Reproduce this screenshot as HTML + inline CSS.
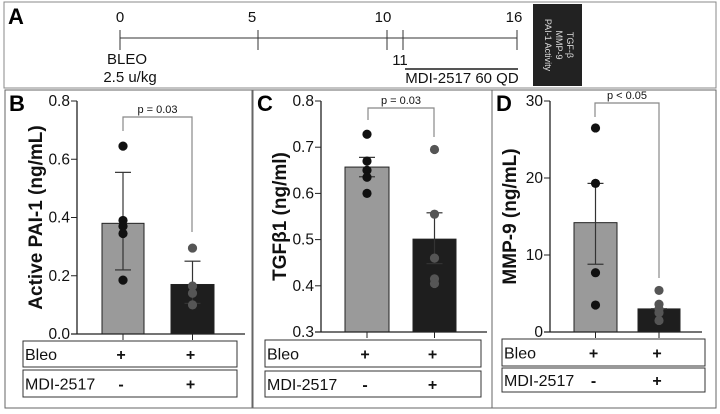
<!DOCTYPE html>
<html><head><meta charset="utf-8"><style>
html,body{margin:0;padding:0;background:#fff;}
svg{display:block;font-family:"Liberation Sans",Arial,sans-serif;}
</style></head><body>
<svg id="fig" width="720" height="414" viewBox="0 0 720 414">
<g>
<rect x="4" y="2" width="712" height="86" fill="none" stroke="#888" stroke-width="1"/>
<text x="8" y="24" font-size="22" font-weight="bold">A</text>
<line x1="120" y1="38" x2="517" y2="38" stroke="#333"/>
<g stroke="#333">
<line x1="120" y1="30" x2="120" y2="50"/><line x1="258" y1="30" x2="258" y2="50"/>
<line x1="387" y1="30" x2="387" y2="50"/><line x1="403" y1="30" x2="403" y2="50"/><line x1="517" y1="30" x2="517" y2="50"/>
</g>
<g font-family="'Liberation Sans Narrow','Liberation Sans',sans-serif" font-size="15" text-anchor="middle" fill="#111">
<text x="120" y="22">0</text><text x="252" y="22">5</text><text x="383" y="22">10</text><text x="514" y="22">16</text>
<text x="400" y="65">11</text>
<text x="127" y="64">BLEO</text><text x="130" y="82">2.5 u/kg</text>
<text x="462" y="83">MDI-2517 60 QD</text>
</g>
<line x1="405" y1="69" x2="518" y2="69" stroke="#555" stroke-width="2"/>
<rect x="533" y="4" width="49" height="82" fill="#222"/>
<g transform="translate(557,45) rotate(90)" fill="#ddd" font-size="9" text-anchor="middle">
<text y="-10">TGF-β</text><text y="1">MMP-9</text><text y="12">PAI-1 Activity</text>
</g>
</g>
<g id="panels"></g>
</svg>
<script>
const ns="http://www.w3.org/2000/svg";
const root=document.getElementById('panels');
function el(tag,attrs,parent,text){const e=document.createElementNS(ns,tag);for(const k in attrs)e.setAttribute(k,attrs[k]);if(text!==undefined)e.textContent=text;parent.appendChild(e);return e;}

// Panel B data
const bTicks=["0.0","0.2","0.4","0.6","0.8"];
const bTickVals=[0,0.2,0.4,0.6,0.8];
const bMeans=[0.38,0.17];
const bErrHi=[0.555,0.25];
const bErrLo=[0.22,0.105];
const bPts0=[0.645,0.39,0.37,0.345,0.185];
const bPts1=[0.295,0.165,0.14,0.10];
// Panel C data
const cTicks=["0.3","0.4","0.5","0.6","0.7","0.8"];
const cTickVals=[0.3,0.4,0.5,0.6,0.7,0.8];
const cMeans=[0.657,0.501];
const cErrHi=[0.678,0.558];
const cErrLo=[0.636,0.448];
const cPts0=[0.728,0.67,0.65,0.635,0.6];
const cPts1=[0.695,0.555,0.46,0.415,0.405];
// Panel D data
const dTicks=["0","10","20","30"];
const dTickVals=[0,10,20,30];
const dMeans=[14.2,3.0];
const dErrHi=[19.3,3.0];
const dErrLo=[8.8,3.0];
const dPts0=[26.5,19.3,7.7,3.5];
const dPts1=[5.4,3.6,3.0,2.5,1.5];

const panels=[
 {id:'b',letter:'B',box:[5,90,247,318],ax:77,axEnd:245,yTop:101,yBot:334,min:0,max:0.8,ticks:bTicks,tickVals:bTickVals,means:bMeans,hi:bErrHi,lo:bErrLo,pts:[bPts0,bPts1],
  bars:[[102,144],[171,214]],title:'Active PAI-1 (ng/mL)',titleX:42,p:'p = 0.03',brY:117,brL:[123,131],brR:[192,232],tbl:[23,214,341,26,370,27]},
 {id:'c',letter:'C',box:[253,90,239,318],ax:321,axEnd:487,yTop:101,yBot:332,min:0.3,max:0.8,ticks:cTicks,tickVals:cTickVals,means:cMeans,hi:cErrHi,lo:cErrLo,pts:[cPts0,cPts1],
  bars:[[345,389],[413,456]],title:'TGFβ1 (ng/ml)',titleX:286,p:'p = 0.03',brY:108,brL:[368,120],brR:[434,137],tbl:[265,216,340,27,371,26]},
 {id:'d',letter:'D',box:[492,90,224,318],ax:550,axEnd:702,yTop:101,yBot:332,min:0,max:30,ticks:dTicks,tickVals:dTickVals,means:dMeans,hi:dErrHi,lo:dErrLo,pts:[dPts0,dPts1],
  bars:[[574,617],[638,680]],title:'MMP-9 (ng/mL)',titleX:516,p:'p < 0.05',brY:103,brL:[595,117],brR:[659,278],tbl:[502,203,339,27,368,24]}
];

panels.forEach(P=>{
 const g=el('g',{},root);
 
 
 const y=v=>P.yBot-(v-P.min)/(P.max-P.min)*(P.yBot-P.yTop);
 const border=el('rect',{x:P.box[0],y:P.box[1],width:P.box[2],height:P.box[3],fill:'none',stroke:'#666'},g);
 
 
 const lt=el('text',{x:P.box[0]+4,y:P.box[1]+21,'font-size':22,'font-weight':'bold'},g,P.letter);
 
 
 P.means.forEach((m,i)=>{
  const [x0,x1]=P.bars[i];
  const r=el('rect',{x:x0,y:y(m),width:x1-x0,height:P.yBot-y(m),fill:i?'#1e1e1e':'#9a9a9a',stroke:'#222','stroke-width':1},g);
  
  
 });
 const ya=el('line',{x1:P.ax,y1:P.yTop,x2:P.ax,y2:P.yBot,stroke:'#222','stroke-width':1.3},g);
 
 
 const xa=el('line',{x1:P.ax-6,y1:P.yBot,x2:P.axEnd,y2:P.yBot,stroke:'#222','stroke-width':1.3},g);
 
 
 P.tickVals.forEach((v,i)=>{
  el('line',{x1:P.ax-6,y1:y(v),x2:P.ax,y2:y(v),stroke:'#222'},g);
  const t=el('text',{x:P.ax-7,y:y(v)+5,'font-size':15.5,'text-anchor':'end',fill:'#111'},g,P.ticks[i]);
  
  
 });
 P.bars.forEach(b=>{const c=(b[0]+b[1])/2;el('line',{x1:c,y1:P.yBot,x2:c,y2:P.yBot+6,stroke:'#222'},g);});
 const yt=el('text',{transform:`translate(${P.titleX},${(P.yTop+P.yBot)/2}) rotate(-90)`,'font-size':19,'font-weight':'bold','text-anchor':'middle',fill:'#111'},g,P.title);
 
 
 P.means.forEach((m,i)=>{
  const c=(P.bars[i][0]+P.bars[i][1])/2;
  const eg=el('g',{stroke:'#333','stroke-width':1.2},g);
  
  
  el('line',{x1:c,y1:y(P.hi[i]),x2:c,y2:y(P.lo[i])},eg);
  el('line',{x1:c-8,y1:y(P.hi[i]),x2:c+8,y2:y(P.hi[i])},eg);
  el('line',{x1:c-8,y1:y(P.lo[i]),x2:c+8,y2:y(P.lo[i])},eg);
  P.pts[i].forEach(v=>{
   const p=el('circle',{cx:c,cy:y(v),r:4.6,fill:i?'#555':'#111'},g);
   
   
  });
 });
 const br=el('path',{d:`M${P.brL[0]},${P.brL[1]} V${P.brY} H${P.brR[0]} V${P.brR[1]}`,fill:'none',stroke:'#888','stroke-width':1.2},g);
 
 
 const pt=el('text',{x:(P.brL[0]+P.brR[0])/2,y:P.brY-4,'font-size':11,'text-anchor':'middle',fill:'#111'},g,P.p);
 
 
 const [tx,tw,y1,h1,y2,h2]=P.tbl;
 [[y1,h1,'Bleo',['+','+']],[y2,h2,'MDI-2517',['-','+']]].forEach(([ty,th,lab,sg],k)=>{
  const row=el('g',{},g);
  
  
  el('rect',{x:tx,y:ty,width:tw,height:th,fill:'#fff',stroke:'#333'},row);
  el('text',{x:tx+2,y:ty+th/2+6,'font-size':16,fill:'#111'},row,lab);
  P.bars.forEach((b,i)=>el('text',{x:(b[0]+b[1])/2-2,y:ty+th/2+6,'font-size':16,'font-weight':'bold','text-anchor':'middle',fill:'#111'},row,sg[i]));
 });
});
</script>
</body></html>
